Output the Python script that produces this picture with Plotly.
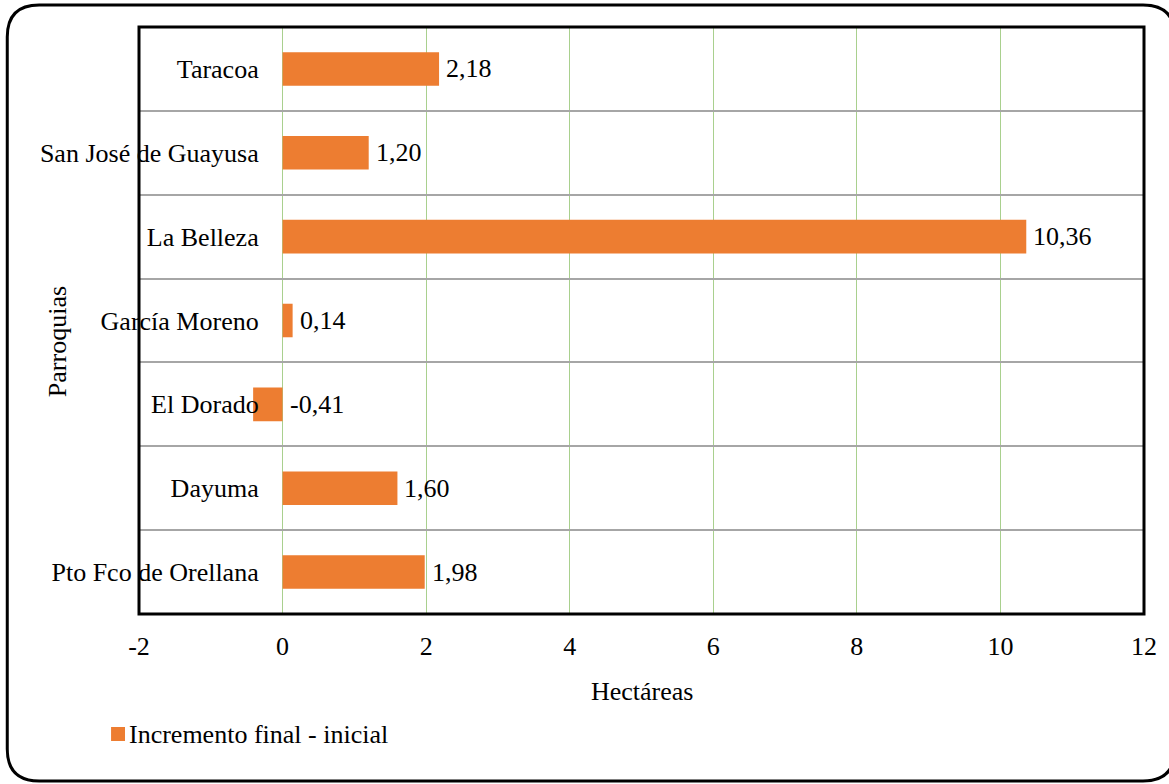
import plotly.graph_objects as go

# Data: increment in hectares per parish (final - initial)
parroquias = [
    "Pto Fco de Orellana",
    "Dayuma",
    "El Dorado",
    "García Moreno",
    "La Belleza",
    "San José de Guayusa",
    "Taracoa",
]
incremento = [1.98, 1.60, -0.41, 0.14, 10.36, 1.20, 2.18]
x_ticks = [-2, 0, 2, 4, 6, 8, 10, 12]
serie = "Incremento final - inicial"

FONT = "Liberation Serif"
ORANGE = "#ED7D31"

W, H = 1169, 784
L, R, T, B = 139, 23, 27, 170
pw, ph = W - L - R, H - T - B


def px(x):
    """page pixel x -> paper fraction"""
    return (x - L) / pw


def py(y):
    """page pixel y (from top) -> paper fraction"""
    return (H - B - y) / ph


def fmt(v):
    return f"{v:.2f}".replace(".", ",")


fig = go.Figure()
fig.add_trace(go.Bar(
    x=incremento, y=parroquias, orientation="h",
    marker=dict(color=ORANGE, line=dict(width=0)),
    width=0.4, name=serie, showlegend=False,
    hoverinfo="x+y",
))

text_font = dict(family=FONT, size=26, color="#000000")

# value labels just right of the bar end (or of zero for negatives)
annotations = []
for cat, v in zip(parroquias, incremento):
    annotations.append(dict(
        x=max(v, 0), y=cat, xref="x", yref="y", text=fmt(v),
        showarrow=False, xanchor="left", yanchor="middle", xshift=5,
        font=text_font,
    ))

# axis titles
annotations.append(dict(
    x=0.5, y=py(692), xref="paper", yref="paper", text="Hectáreas",
    showarrow=False, xanchor="center", yanchor="middle", font=text_font,
))
annotations.append(dict(
    x=px(57), y=py(342), xref="paper", yref="paper", text="Parroquias",
    showarrow=False, xanchor="center", yanchor="middle", textangle=-90,
    font=text_font,
))

# legend entry: swatch + series name
annotations.append(dict(
    x=px(127), y=py(734), xref="paper", yref="paper", text=serie,
    showarrow=False, xanchor="left", yanchor="middle", font=text_font,
))

# outer rounded frame around the whole chart (right edge runs off the page)
x0, x1, y0, y1, rad = 7, 1177, 5, 781, 32


def P(x, y):
    return f"{px(x):.5f},{py(y):.5f}"


frame = (
    f"M {P(x0 + rad, y0)} L {P(x1 - rad, y0)} "
    f"Q {P(x1, y0)} {P(x1, y0 + rad)} L {P(x1, y1 - rad)} "
    f"Q {P(x1, y1)} {P(x1 - rad, y1)} L {P(x0 + rad, y1)} "
    f"Q {P(x0, y1)} {P(x0, y1 - rad)} L {P(x0, y0 + rad)} "
    f"Q {P(x0, y0)} {P(x0 + rad, y0)} Z"
)

shapes = [
    dict(type="path", path=frame, xref="paper", yref="paper",
         line=dict(color="#000000", width=3), layer="above"),
    dict(type="rect", x0=0, x1=1, y0=0, y1=1, xref="paper", yref="paper",
         line=dict(color="#000000", width=3), layer="above"),
    dict(type="rect", x0=px(111), x1=px(125), y0=py(727), y1=py(741),
         xref="paper", yref="paper", fillcolor=ORANGE,
         line=dict(width=0), layer="above"),
]

fig.update_layout(
    width=W, height=H,
    margin=dict(l=L, r=R, t=T, b=B, pad=0),
    paper_bgcolor="white", plot_bgcolor="white",
    font=text_font,
    separators=",.",
    showlegend=False,
    annotations=annotations,
    shapes=shapes,
    xaxis=dict(
        range=[-2, 12], tickvals=x_ticks, ticktext=[str(t) for t in x_ticks],
        showgrid=True, gridcolor="#A9D08E", gridwidth=1.3,
        zeroline=False, showline=False, ticks="",
        ticklabelstandoff=14,
        tickfont=text_font,
    ),
    yaxis=dict(
        type="category", categoryorder="array", categoryarray=parroquias,
        tickson="boundaries", showgrid=True, gridcolor="#A6A6A6", gridwidth=1.5,
        zeroline=False, showline=False, ticks="",
        anchor="free", position=px(283),
        ticklabelstandoff=24,
        tickfont=text_font,
    ),
)

fig.write_html("out.html")
